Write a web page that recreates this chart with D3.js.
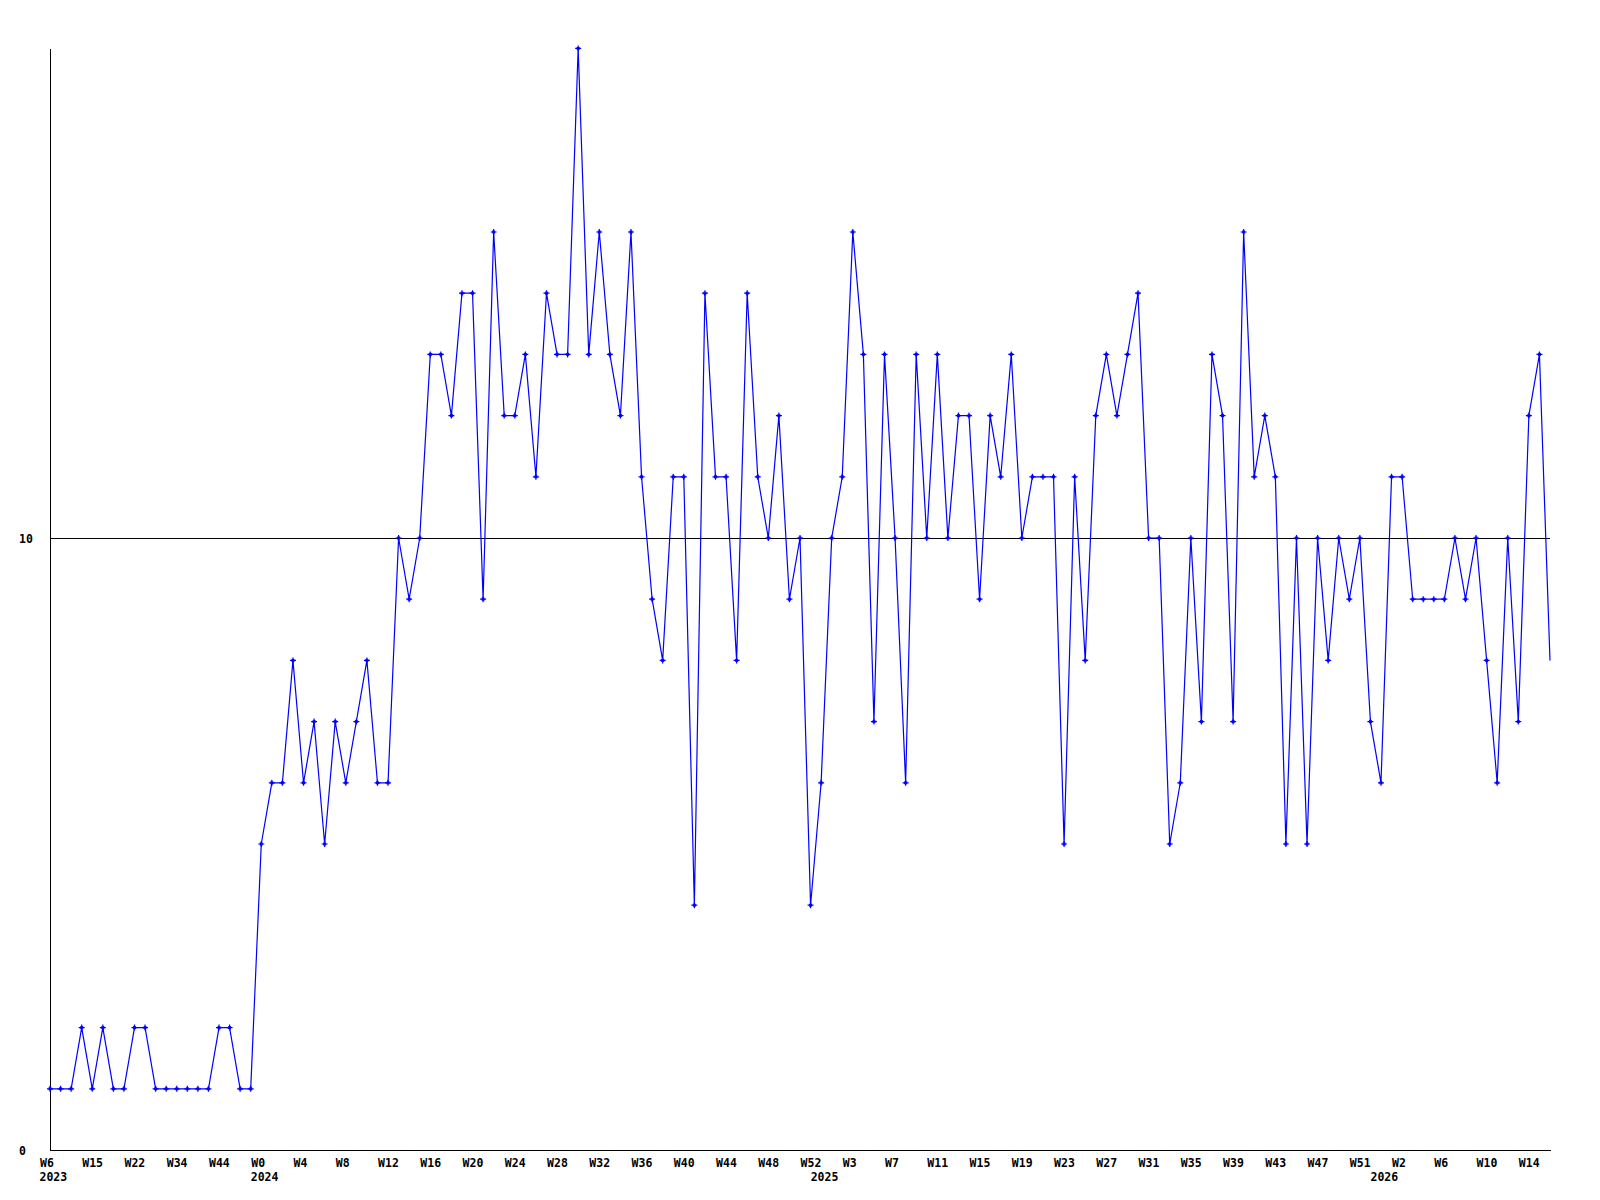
<!DOCTYPE html>
<html>
<head>
<meta charset="utf-8">
<script src="https://cdn.jsdelivr.net/npm/d3@7"></script>
<style>
  html, body { margin: 0; padding: 0; background: #fff; }
  svg { display: block; }
</style>
</head>
<body>
<svg id="chart" width="1600" height="1200"></svg>
<script>
// ---- data ----
const values = [
  1,1,1,2,1,2,1,1,2,2,1,1,1,1,1,1,2,2,1,1,
  5,6,6,8,6,7,5,7,6,7,8,6,6,10,9,10,13,13,12,14,
  14,9,15,12,12,13,11,14,13,13,18,13,15,13,12,15,11,9,8,11,
  11,4,14,11,11,8,14,11,10,12,9,10,4,6,10,11,15,13,7,13,
  10,6,13,10,13,10,12,12,9,12,11,13,10,11,11,11,5,11,8,12,
  13,12,13,14,10,10,5,6,10,7,13,12,7,15,11,12,11,5,10,5,
  10,8,10,9,10,7,6,11,11,9,9,9,9,10,9,10,8,6,10,7,
  12,13,8
];
const tickLabels = [
  "W6","W15","W22","W34","W44",
  "W0","W4","W8","W12","W16","W20","W24","W28","W32","W36","W40","W44","W48","W52",
  "W3","W7","W11","W15","W19","W23","W27","W31","W35","W39","W43","W47","W51",
  "W2","W6","W10","W14"
];
const tickEvery = 4;
const years = ["2023","2024","2025","2026"];
const yearStartIndex = [0, 20, 73, 126];
const yTicks = [0, 10];
const yMax = 18;

// ---- layout ----
const svg = d3.select("#chart");
const font = "'DejaVu Sans Mono', monospace";
const x = d3.scalePoint().domain(d3.range(values.length)).range([50, 1550]);
const y = d3.scaleLinear().domain([0, yMax]).range([1150, 48.4]);

// reference line at 10
svg.append("g").selectAll("line").data(yTicks.filter(d => d > 0)).join("line")
  .attr("x1", 50).attr("x2", 1550)
  .attr("y1", d => Math.round(y(d)) + 0.5).attr("y2", d => Math.round(y(d)) + 0.5)
  .attr("stroke", "#000").attr("stroke-width", 1).attr("shape-rendering", "crispEdges");

// axes lines
svg.append("line").attr("x1", 50.5).attr("x2", 50.5).attr("y1", 49).attr("y2", 1150)
  .attr("stroke", "#000").attr("shape-rendering", "crispEdges");
svg.append("line").attr("x1", 50).attr("x2", 1551).attr("y1", 1150.5).attr("y2", 1150.5)
  .attr("stroke", "#000").attr("shape-rendering", "crispEdges");

// x axis labels
const tickIdx = d3.range(0, values.length, tickEvery).slice(0, tickLabels.length);
const xAxis = d3.axisBottom(x).tickValues(tickIdx).tickSize(0)
  .tickFormat((d, i) => tickLabels[i]);
const gx = svg.append("g").attr("transform", "translate(0,1150)").call(xAxis);
gx.select(".domain").remove();
gx.selectAll("text")
  .attr("text-anchor", "start").attr("dx", -10.5).attr("y", 16.5).attr("dy", 0)
  .attr("font-family", font).attr("font-weight", "bold").attr("font-size", 11.5).attr("fill", "#000");

// year labels
svg.append("g").selectAll("text").data(years).join("text")
  .attr("x", (d, i) => x(yearStartIndex[i]) - 10.5).attr("y", 1181)
  .attr("font-family", font).attr("font-weight", "bold").attr("font-size", 11.5).attr("fill", "#000")
  .text(d => d);

// y axis labels
const yAxis = d3.axisLeft(y).tickValues(yTicks).tickSize(0).tickFormat(d3.format("d"));
const gy = svg.append("g").attr("transform", "translate(50,0)").call(yAxis);
gy.select(".domain").remove();
gy.selectAll("text")
  .attr("text-anchor", "start").attr("x", -31).attr("dy", "0.35em")
  .attr("font-family", font).attr("font-weight", "bold").attr("font-size", 11.5).attr("fill", "#000");

// series line
const line = d3.line().x((d, i) => x(i)).y(d => y(d));
svg.append("path").datum(values).attr("d", line)
  .attr("fill", "none").attr("stroke", "#0000ff").attr("stroke-width", 1.2);

// markers (last point has none in the reference)
const marker = "M-3,0H3M0,-3V3";
const mg = svg.append("g").selectAll("g").data(values.slice(0, values.length - 1)).join("g")
  .attr("transform", (d, i) => `translate(${x(i)},${y(d)})`);
mg.append("path").attr("d", marker).attr("stroke", "#0000ff").attr("stroke-width", 1.2);
mg.append("rect").attr("x", -1.5).attr("y", -1.5).attr("width", 3).attr("height", 3).attr("fill", "#0000ff");
</script>
</body>
</html>
